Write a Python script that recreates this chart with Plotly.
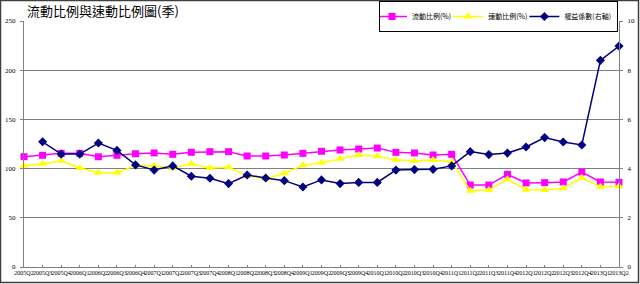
import plotly.graph_objects as go

quarters = ["2005Q2", "2005Q3", "2005Q4", "2006Q1", "2006Q2", "2006Q3", "2006Q4",
            "2007Q1", "2007Q2", "2007Q3", "2007Q4", "2008Q1", "2008Q2", "2008Q3",
            "2008Q4", "2009Q1", "2009Q2", "2009Q3", "2009Q4", "2010Q1", "2010Q2",
            "2010Q3", "2010Q4", "2011Q1", "2011Q2", "2011Q3", "2011Q4", "2012Q1",
            "2012Q2", "2012Q3", "2012Q4", "2013Q1", "2013Q2"]

current_ratio = [112.1, 113.5, 115.5, 115.5, 112.0, 113.5, 115.1, 115.9, 114.5, 116.6, 117.2,
                 117.2, 112.8, 112.8, 113.8, 115.5, 117.6, 118.9, 119.9, 120.9, 116.5, 115.9,
                 113.8, 114.5, 83.3, 83.3, 94.2, 85.4, 85.7, 86.4, 96.5, 86.4, 86.1]

quick_ratio = [103.0, 105.0, 108.0, 100.6, 95.8, 95.8, 103.0, 103.0, 100.6, 105.0, 100.6,
               101.3, 92.8, 89.8, 95.2, 103.3, 106.0, 110.1, 113.8, 112.5, 109.0, 107.7,
               108.7, 107.0, 77.5, 78.3, 89.1, 78.6, 78.3, 80.0, 90.4, 81.6, 82.0]

equity_multiplier = [None, 5.09, 4.59, 4.59, 5.04, 4.74, 4.15, 3.94, 4.11, 3.69, 3.61,
                     3.39, 3.74, 3.62, 3.51, 3.25, 3.54, 3.39, 3.44, 3.44, 3.94, 3.96,
                     3.97, 4.11, 4.69, 4.57, 4.63, 4.88, 5.26, 5.08, 4.96, 8.40, 8.98]

names = ["流動比例(%)", "速動比例(%)", "權益係數(右軸)"]

fig = go.Figure()
fig.add_trace(go.Scatter(x=quarters, y=current_ratio, name=names[0], mode="lines+markers",
                         line=dict(color="#FF00FF", width=1.5),
                         marker=dict(symbol="square", size=7, color="#FF00FF"),
                         cliponaxis=False))
fig.add_trace(go.Scatter(x=quarters, y=quick_ratio, name=names[1], mode="lines+markers",
                         line=dict(color="#FFFF00", width=1.5),
                         marker=dict(symbol="triangle-up", size=8, color="#FFFF00"),
                         cliponaxis=False))
fig.add_trace(go.Scatter(x=quarters, y=equity_multiplier, name=names[2], mode="lines+markers",
                         line=dict(color="#000080", width=1.5),
                         marker=dict(symbol="diamond", size=7, color="#000080"),
                         yaxis="y2", cliponaxis=False))

L, R, T, B = 24, 21, 21, 17
W, H = 640, 284
pw, ph = W - L - R, H - T - B

fig.update_layout(
    width=W, height=H,
    margin=dict(l=L, r=R, t=T, b=B, pad=0, autoexpand=False),
    paper_bgcolor="white", plot_bgcolor="white",
    font=dict(family="Liberation Serif", size=7, color="#000000"),
    showlegend=True,
    legend=dict(orientation="h", x=(618 - L) / pw, xanchor="right",
                y=(H - B - 1) / ph, yanchor="top",
                bordercolor="#000000", borderwidth=1, bgcolor="white",
                font=dict(family="Noto Sans CJK TC", size=7),
                itemwidth=30, tracegroupgap=0, indentation=-8),
    xaxis=dict(type="category", range=[0, len(quarters) - 1], showgrid=False,
               showline=True, linecolor="#808080", linewidth=1,
               ticks="inside", ticklen=2, tickcolor="#808080",
               tickangle=0, tickfont=dict(size=6, family="Liberation Serif"),
               zeroline=False, fixedrange=True),
    yaxis=dict(range=[0, 250], dtick=50, showgrid=True, gridcolor="#808080", gridwidth=1,
               showline=True, linecolor="#808080", linewidth=1,
               ticks="outside", ticklen=3, tickcolor="#808080", ticklabelstandoff=3,
               tickfont=dict(size=7, family="Liberation Serif"), zeroline=False),
    yaxis2=dict(range=[0, 10], dtick=2, overlaying="y", side="right", showgrid=False,
                showline=True, linecolor="#808080", linewidth=1,
                ticks="outside", ticklen=3, tickcolor="#808080", ticklabelstandoff=3,
                tickfont=dict(size=7, family="Liberation Serif"), zeroline=False),
    annotations=[dict(text="流動比例與速動比例圖(季)", xref="paper", yref="paper",
                      x=(25 - L) / pw, y=(H - B - 11) / ph, xanchor="left", yanchor="middle",
                      showarrow=False, font=dict(family="Noto Sans CJK TC", size=13, color="#000000"))],
    shapes=[dict(type="rect", xref="paper", yref="paper",
                 x0=(0.5 - L) / pw, x1=(W - 1.5 - L) / pw,
                 y0=(H - B - (H - 1.5)) / ph, y1=(H - B - 0.5) / ph,
                 line=dict(color="#404040", width=1.5), fillcolor="rgba(0,0,0,0)", layer="below")],
)

fig.write_html("out.html")
